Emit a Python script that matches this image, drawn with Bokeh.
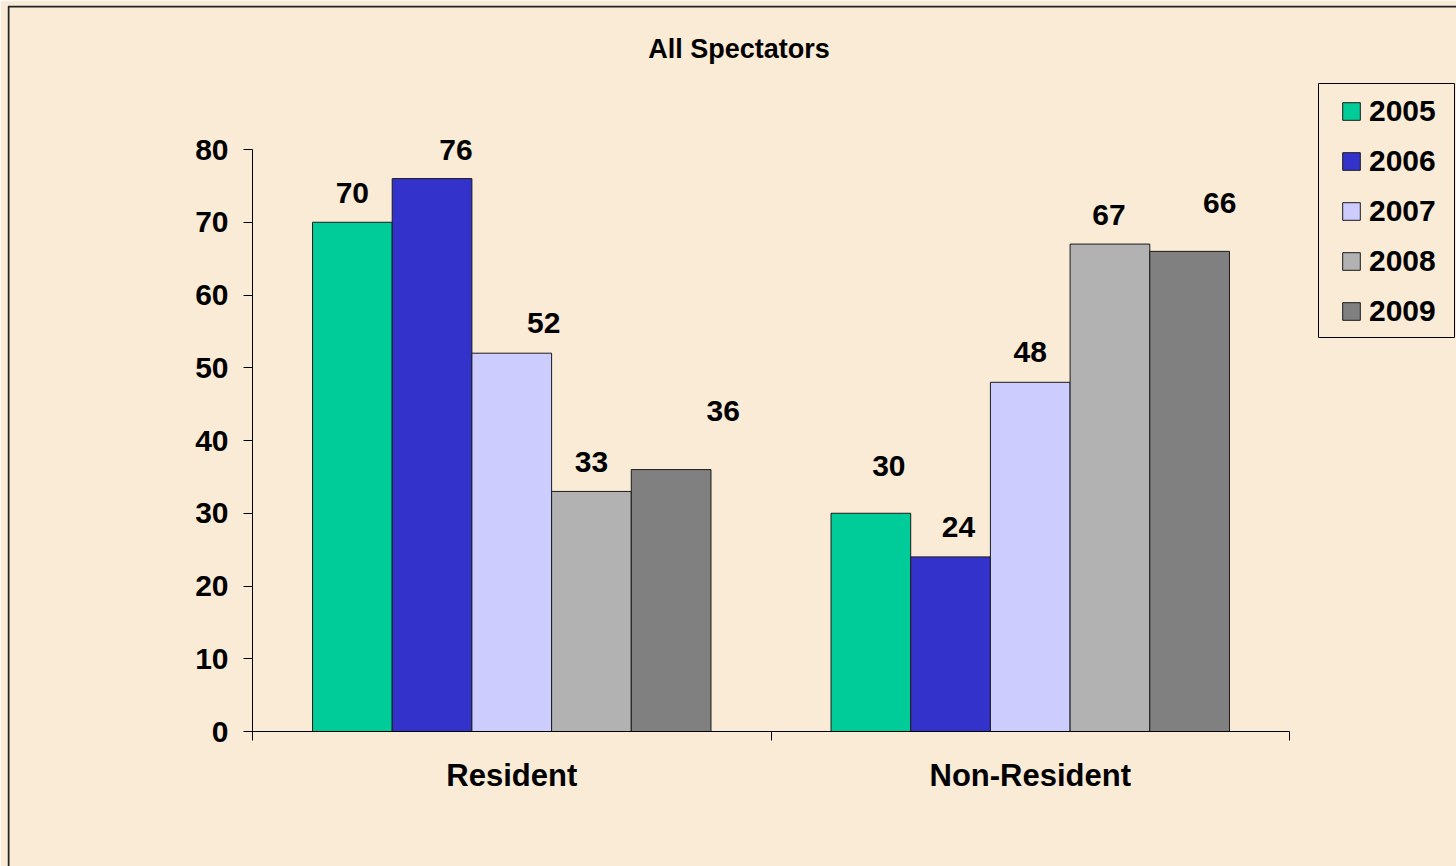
from bokeh.plotting import figure
from bokeh.models import (Range1d, LinearAxis, FixedTicker, Legend, LegendItem,
                          BoxAnnotation, Label, ColumnDataSource)
from bokeh.core.properties import value
from bokeh.embed import file_html
from bokeh.resources import INLINE

# ---- data -----------------------------------------------------------------
categories = ["Resident", "Non-Resident"]
years = ["2005", "2006", "2007", "2008", "2009"]
v2005 = [70, 30]
v2006 = [76, 24]
v2007 = [52, 48]
v2008 = [33, 67]
v2009 = [36, 66]
series = [v2005, v2006, v2007, v2008, v2009]
y_ticks = [0, 10, 20, 30, 40, 50, 60, 70, 80]
title_text = "All Spectators"

# ---- style ----------------------------------------------------------------
colors = ["#00CC99", "#3333CC", "#CCCCFF", "#B2B2B2", "#808080"]
bg = "#FAEBD7"
font = "Liberation Sans"
bar_w = 0.1537
offsets = [-2 * bar_w, -bar_w, 0.0, bar_w, 2 * bar_w]
# label nudges in pixels (x right, gap above bar top) per year, per category
label_dx = [[0, 18], [24, 8], [32, 0], [0, -1], [52, 30]]
label_gap = [[29, 47], [29, 30], [30, 30], [29, 29], [59, 48]]

# ---- page geometry (pixels) ------------------------------------------------
W, H = 1456, 866
FR_L, FR_T = 7, 5                    # drawing area corner
BOX_L, BOX_T = 8, 6                  # chart area frame corner
AX_L, AX_R = 252, 1289               # x extent of the plotting axes
AX_T, AX_B = 149, 731                # y extent of the plotting axes
x_per_px = 2.0 / (AX_R - AX_L)
y_per_px = 80.0 / (AX_B - AX_T)

x_range = Range1d((FR_L - AX_L) * x_per_px, (W - AX_L) * x_per_px)
y_range = Range1d((AX_B - H) * y_per_px, (AX_B - FR_T) * y_per_px)

p = figure(width=W, height=H, output_backend="svg", toolbar_location=None,
           x_range=x_range, y_range=y_range,
           x_axis_type=None, y_axis_type=None,
           min_border_left=FR_L, min_border_top=FR_T,
           min_border_right=0, min_border_bottom=0,
           background_fill_color=bg, border_fill_color=bg,
           outline_line_color=None)
p.xgrid.visible = False
p.ygrid.visible = False

# y axis
yax = LinearAxis(ticker=FixedTicker(ticks=y_ticks, minor_ticks=[]),
                 fixed_location=0, bounds=(0, 80),
                 axis_line_color="black", axis_line_width=1,
                 major_tick_line_color="black", major_tick_out=9, major_tick_in=0,
                 minor_tick_line_color=None,
                 major_label_text_font=font, major_label_text_font_style="bold",
                 major_label_text_font_size="30px", major_label_text_color="black",
                 major_label_standoff=15)
p.add_layout(yax, "left")

# x axis: labels at category centres, tick marks at category boundaries
xax = LinearAxis(ticker=FixedTicker(ticks=[0.5, 1.5], minor_ticks=[0, 1, 2]),
                 fixed_location=0, bounds=(0, 2),
                 major_label_overrides={0.5: categories[0], 1.5: categories[1]},
                 axis_line_color="black", axis_line_width=1,
                 major_tick_line_color=None, major_tick_out=0, major_tick_in=0,
                 minor_tick_line_color="black", minor_tick_out=9, minor_tick_in=0,
                 major_label_text_font=font, major_label_text_font_style="bold",
                 major_label_text_font_size="31px", major_label_text_color="black",
                 major_label_standoff=17)
p.add_layout(xax, "below")

# bars and value labels
items = []
for k, (yr, vals) in enumerate(zip(years, series)):
    xs = [i + 0.5 + offsets[k] for i in range(len(categories))]
    src = ColumnDataSource(dict(x=xs, top=vals, label=[str(v) for v in vals],
                                dx=label_dx[k], dy=[-g for g in label_gap[k]]))
    r = p.vbar(x="x", top="top", width=bar_w, bottom=0, source=src,
               fill_color=colors[k], line_color="#1a1a1a", line_width=1)
    p.text(x="x", y="top", text="label", x_offset="dx", y_offset="dy", source=src,
           text_font=value(font), text_font_style="bold", text_font_size="30px",
           text_color="black", text_align="center", text_baseline="alphabetic")
    items.append(LegendItem(label=yr, renderers=[r]))

# title
p.add_layout(Label(x=(738.5 - AX_L) * x_per_px, y=(AX_B - 48) * y_per_px,
                   text=title_text, text_font=font, text_font_style="bold",
                   text_font_size="27px", text_color="black",
                   text_align="center", text_baseline="middle"))

# legend
legend = Legend(items=items, location=(1340 - FR_L, H - 328), orientation="vertical",
                padding=0, margin=0, spacing=15,
                glyph_width=22, glyph_height=22, label_height=35, label_standoff=7,
                label_text_font=font, label_text_font_style="bold",
                label_text_font_size="30px", label_text_color="black",
                background_fill_alpha=0, border_line_color=None)
p.add_layout(legend, "center")

# legend frame
p.add_layout(BoxAnnotation(left=1318, right=1454, top=83, bottom=337,
                           left_units="canvas", right_units="canvas",
                           top_units="canvas", bottom_units="canvas",
                           fill_alpha=0, line_color="black", line_alpha=1.0,
                           line_width=1))
# chart area frame (its right and bottom edges lie off the page)
p.add_layout(BoxAnnotation(left=BOX_L, right=W + 40, top=BOX_T, bottom=H + 40,
                           left_units="canvas", right_units="canvas",
                           top_units="canvas", bottom_units="canvas",
                           fill_alpha=0, line_color="#222222", line_alpha=1.0,
                           line_width=2))

open("out.html", "w").write(file_html(p, INLINE))
